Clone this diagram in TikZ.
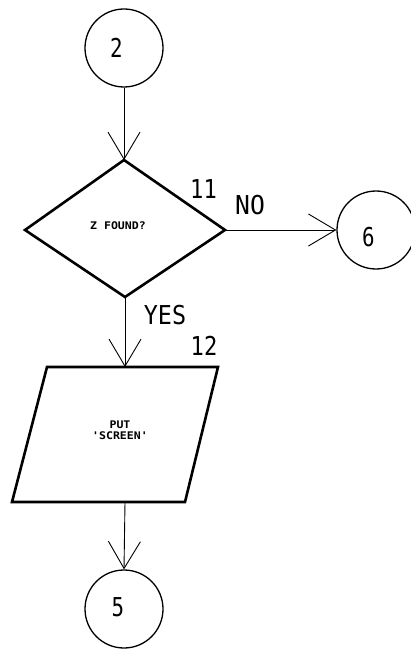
\documentclass[tikz,border=0pt]{standalone}
\usepackage{fontspec}
\setmonofont{DejaVu Sans Mono}
\usetikzlibrary{arrows.meta}
% condensed plotter-style lettering
\newcommand\plotlab[2][0.9]{\scalebox{#1}[1]{#2}}
\begin{document}
\begin{tikzpicture}[x=1pt,y=-1pt,
  flow/.style={line width=0.9pt,
    -{Straight Barb[length=27pt,width=32pt,line width=0.9pt]}},
  offpage/.style={circle,draw,line width=1.3pt,minimum size=78pt,inner sep=0pt},
  outline/.style={draw,line width=2.6pt,line join=miter},
  tag/.style={inner sep=0pt,font=\ttfamily\fontsize{26}{26}\selectfont},
  inside/.style={inner sep=0pt,align=center,font=\ttfamily\bfseries\fontsize{10.5}{14}\selectfont}]
\useasboundingbox (0,0) rectangle (411,652);

% connector circles
\node[offpage] (c2) at (124,48) {};
\node[offpage] (c6) at (376,230) {};
\node[offpage] (c5) at (124,609) {};
\node[tag] (t2) at (116.5,48) {\plotlab[0.8]{2}};
\node[tag] (t6) at (368.5,237) {\plotlab[0.8]{6}};
\node[tag] (t5) at (118,607.5) {\plotlab[0.8]{5}};

% decision diamond
\coordinate (dtop) at (124,160);
\coordinate (dleft) at (25,230);
\coordinate (dright) at (225,230);
\coordinate (dbot) at (125,297);
\draw[outline] (dtop) -- (dright) -- (dbot) -- (dleft) -- cycle;
\node[inside] (dtext) at (118,226) {\plotlab[1.1]{Z FOUND?}};

% input/output parallelogram
\coordinate (ptl) at (47,367);
\coordinate (ptr) at (218,367);
\coordinate (pbr) at (185,502);
\coordinate (pbl) at (12,502);
\coordinate (ptop) at (125,367);
\coordinate (pbot) at (125,502);
\draw[outline] (ptl) -- (ptr) -- (pbr) -- (pbl) -- cycle;
\node[inside] (ptext) at (120,430) {\plotlab[1.1]{PUT}\\[-3pt]\plotlab[1.1]{'SCREEN'}};

% flow lines
\draw[flow] (c2.south) -- (dtop);
\draw[flow] (dright) -- (c6.west);
\draw[flow] (dbot) -- (ptop);
\draw[flow] (pbot) -- (c5.north);

% labels
\node[tag] (n11) at (203.5,189) {\plotlab[0.85]{11}};
\node[tag] (lno) at (250,205) {\plotlab[0.95]{NO}};
\node[tag] (lyes) at (165,315) {\plotlab[0.9]{YES}};
\node[tag] (n12) at (204,346) {\plotlab[0.85]{12}};
\end{tikzpicture}
\end{document}
